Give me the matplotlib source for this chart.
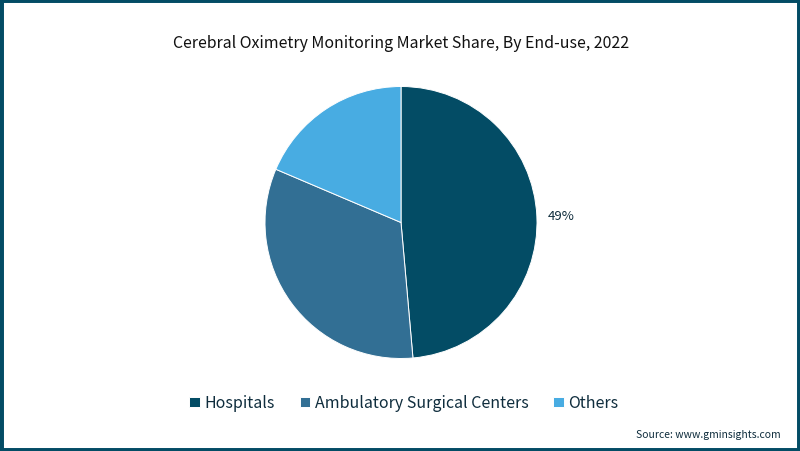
import matplotlib
matplotlib.use("Agg")
import matplotlib.pyplot as plt
from matplotlib.patches import Rectangle

categories = ["Hospitals", "Ambulatory Surgical Centers", "Others"]
shares = [48.6, 32.8, 18.6]
colors = ["#034C65", "#326F94", "#48ACE2"]
pct_labels = ["49%", "", ""]

plt.rcParams['font.family'] = ['Noto Sans CJK SC', 'DejaVu Sans']

fig = plt.figure(figsize=(8, 4.52), dpi=100)
fig.patches.append(Rectangle((0, 0), 1, 1, transform=fig.transFigure, fill=False,
                             edgecolor="#034C65", linewidth=5))

# pie centre is around (401, 222) with radius 136 px
ax = fig.add_axes([(401 - 136) / 800, 1 - (223.5 + 136) / 452, 272 / 800, 272 / 452])
wedges, _ = ax.pie(shares, colors=colors, startangle=90, counterclock=False, radius=1,
                   wedgeprops={"edgecolor": "white", "linewidth": 0.7})
ax.set_xlim(-1, 1)
ax.set_ylim(-1, 1)

ax.text(1.175, 0.05, pct_labels[0], ha="center", va="center", fontsize=9.5, color="#0f2d3d")

fig.text(0.501, 1 - 44 / 452, "Cerebral Oximetry Monitoring Market Share, By End-use, 2022",
         ha="center", va="center", fontsize=11.45, color="#111111")

leg = fig.legend(wedges, categories, loc="center", bbox_to_anchor=(0.505, 1 - 404 / 452),
                 ncol=3, frameon=False, fontsize=11.5, handlelength=0.65, handleheight=0.65,
                 handletextpad=0.3, columnspacing=1.55, labelcolor="#0f2d3d")

fig.text(781 / 800, 1 - 435 / 452, "Source: www.gminsights.com", ha="right", va="center",
         fontsize=7.5, color="#0f2d3d")

fig.savefig("out.png", dpi=100)
plt.close(fig)
